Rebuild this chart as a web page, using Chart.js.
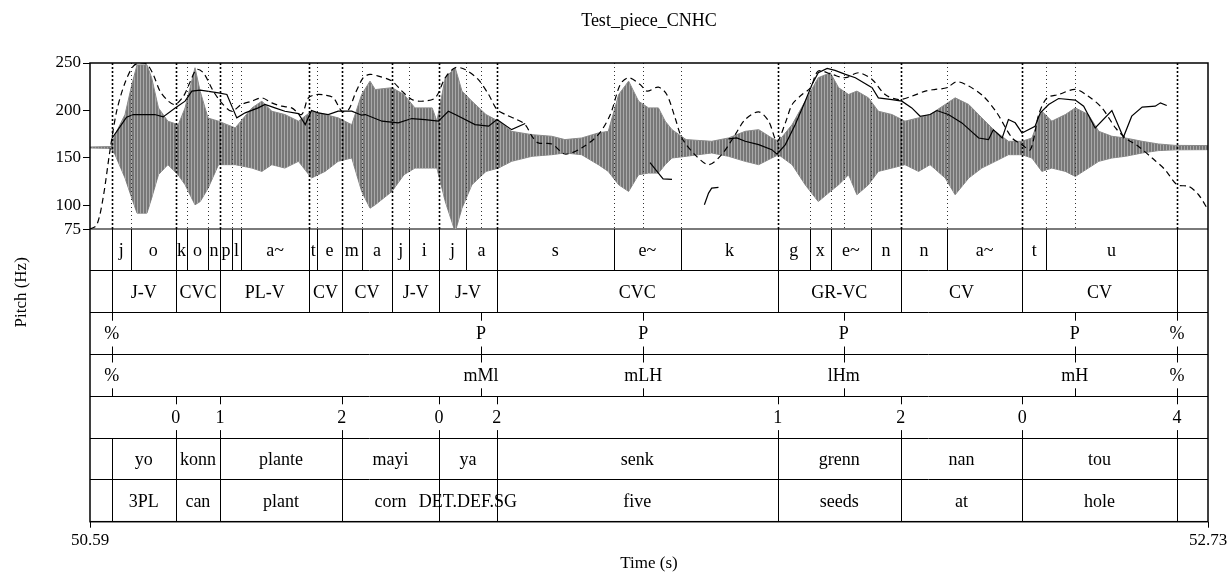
<!DOCTYPE html>
<html lang="en">
<head>
<meta charset="UTF-8">
<title>Test_piece_CNHC</title>
<script src="https://cdn.jsdelivr.net/npm/chart.js"></script>
<style>
  body { margin: 0; background: #fff; }
  #wrap { width: 1231px; height: 574px; }
</style>
</head>
<body>
<div id="wrap"><canvas id="myChart" width="1231" height="574"></canvas></div>
<script>
const FONT = '"Liberation Serif", "Times New Roman", serif';
const chartTitle = 'Test_piece_CNHC';
const tStart = 50.59, tEnd = 52.73;
const pitchTicks = [250, 200, 150, 100, 75];

// waveform envelope (drawn on the pitch scale, Hz units)
const waveT = [50.590, 50.630, 50.638, 50.657, 50.670, 50.680, 50.699, 50.708, 50.721, 50.739,
  50.759, 50.772, 50.791, 50.801, 50.816, 50.836, 50.868, 50.900, 50.919, 50.938,
  50.963, 50.989, 51.014, 51.040, 51.065, 51.091, 51.110, 51.126, 51.136, 51.168,
  51.191, 51.212, 51.245, 51.254, 51.270, 51.289, 51.302, 51.321, 51.348, 51.372,
  51.397, 51.436, 51.474, 51.499, 51.531, 51.563, 51.582, 51.602, 51.621, 51.640,
  51.659, 51.678, 51.691, 51.704, 51.731, 51.780, 51.812, 51.844, 51.870, 51.895,
  51.908, 51.934, 51.959, 51.984, 52.007, 52.023, 52.042, 52.058, 52.080, 52.099,
  52.125, 52.150, 52.176, 52.198, 52.227, 52.246, 52.272, 52.297, 52.323, 52.348,
  52.374, 52.393, 52.412, 52.431, 52.457, 52.476, 52.501, 52.521, 52.546, 52.572,
  52.604, 52.635, 52.667, 52.730];
const waveHi = [161.5, 162, 174.5, 195.7, 227, 248, 248, 234.5, 202.7, 188.7,
  185, 202.7, 245, 220, 192, 188.7, 181.6, 202.7, 209.8, 199.2,
  195.7, 188.7, 199.2, 195.7, 192.2, 185, 216.8, 230.9, 222, 224,
  216.8, 202.7, 202.7, 188.7, 234.5, 245, 220.4, 209.8, 195.7, 188.7,
  178, 174.5, 172.8, 169.3, 171, 176.3, 178, 216.8, 230.9, 209.8,
  202.7, 202.7, 188.7, 179.8, 169.3, 167.5, 171, 178, 179.8, 171,
  167.5, 185.1, 209.8, 234.5, 239.7, 223.9, 216.8, 220.4, 213.3, 199.2,
  195.7, 188.7, 192.2, 195.7, 206.3, 213.3, 206.3, 192.2, 178, 167.5,
  167.5, 171, 199.2, 188.7, 195.7, 202.7, 195.7, 178, 172.8, 171,
  167.5, 164.7, 163.2, 163];
const waveLo = [160.5, 160, 153.4, 128.8, 107.6, 91.8, 91.8, 107.6, 132.3, 142.9,
  132, 121.7, 100.6, 104, 118, 142.9, 142.9, 139.3, 135.8, 142.9,
  139.3, 146.4, 128.8, 135.8, 146.4, 149.9, 114.7, 97, 100.6, 114.7,
  132.3, 139.3, 139.3, 139.3, 104, 72, 97, 121.7, 135.8, 139.3,
  146.4, 151.7, 153.4, 155.2, 153.4, 142.9, 135.8, 121.7, 114.7, 132.3,
  134, 134, 142.9, 149.9, 151.7, 155.2, 151.7, 146.4, 142.9, 149.9,
  153.4, 142.9, 121.7, 104, 114.7, 121.7, 132.3, 111.2, 121.7, 135.8,
  139.3, 142.9, 135.8, 142.9, 128.8, 111.2, 128.8, 139.3, 146.4, 153.4,
  153.4, 149.9, 135.8, 139.3, 135.8, 130.5, 139.3, 146.4, 149.9, 151.7,
  155.2, 157.7, 158.5, 158.7];

// pitch (solid), null = unvoiced gap
const solidT = [50.632, 50.644, 50.660, 50.673, 50.714, 50.730, 50.753, 50.772, 50.785, 50.801,
  50.836, 50.852, 50.871, 50.887, 50.912, 50.925, 50.944, 50.963, 50.989, 51.002,
  51.014, 51.027, 51.046, 51.065, 51.091, 51.110, 51.117, 51.149, 51.180, 51.206,
  51.231, 51.257, 51.276, 51.292, 51.327, 51.353, 51.369, 51.397, 51.423,
  51.500,
  51.662, 51.678, 51.687, 51.704,
  51.730,
  51.766, 51.774, 51.780, 51.793,
  51.800,
  51.812, 51.828, 51.844, 51.870, 51.895, 51.905, 51.921, 51.940, 51.959, 51.972,
  51.984, 52.001, 52.016, 52.036, 52.055, 52.087, 52.099, 52.125, 52.144, 52.163,
  52.179, 52.198, 52.211, 52.233, 52.259, 52.291, 52.310, 52.319, 52.336, 52.348,
  52.361, 52.374, 52.399, 52.409, 52.425, 52.444, 52.476, 52.492, 52.514, 52.546,
  52.568, 52.584, 52.604, 52.629, 52.639, 52.651];
const solidHz = [170.7, 180, 192.9, 195.7, 195.7, 193.2, 202.7, 209.8, 220.4, 221.4,
  218.6, 216.8, 192.2, 197.5, 202.7, 206.3, 202.7, 199.2, 196.7, 185.1,
  200, 197.5, 195.7, 199.2, 199.2, 195, 195.7, 188.7, 187, 191.5,
  190.4, 188.7, 199.2, 195, 185.1, 183.4, 190.4, 179.8, 186.2,
  null,
  145, 134, 128, 127.5,
  null,
  100.6, 112.9, 118.2, 118.9,
  null,
  170, 171, 167.6, 164, 158.7, 154, 164, 185.1, 209.8, 227.4,
  239.7, 244.3, 242.2, 238, 234.5, 223.9, 213.3, 211.5, 209.8, 202.7,
  193.9, 195.7, 199.9, 195.7, 186.9, 171, 169.3, 179.8, 171, 190.4,
  187, 176.3, 183.3, 197.4, 206.3, 212.6, 210.9, 204.5, 181.6, 199.9,
  171.7, 194, 203.5, 204.5, 208, 205.2];

// second contour (dashed)
const dashT = [50.590, 50.603, 50.615, 50.628, 50.641, 50.657, 50.673, 50.686, 50.699, 50.711,
  50.724, 50.740, 50.753, 50.769, 50.781, 50.794, 50.807, 50.826, 50.842, 50.861,
  50.880, 50.900, 50.919, 50.938, 50.957, 50.976, 50.995, 51.008, 51.024, 51.040,
  51.056, 51.072, 51.085, 51.097, 51.113, 51.126, 51.142, 51.168, 51.187, 51.206,
  51.228, 51.251, 51.270, 51.289, 51.308, 51.333, 51.353, 51.369, 51.385, 51.407,
  51.423, 51.436, 51.448, 51.474, 51.499, 51.531, 51.563, 51.586, 51.605, 51.621,
  51.643, 51.656, 51.678, 51.694, 51.710, 51.723, 51.748, 51.774, 51.799, 51.825,
  51.844, 51.870, 51.889, 51.905, 51.921, 51.934, 51.953, 51.969, 51.984, 52.010,
  52.036, 52.061, 52.087, 52.112, 52.138, 52.163, 52.189, 52.208, 52.230, 52.249,
  52.272, 52.300, 52.326, 52.355, 52.374, 52.390, 52.406, 52.422, 52.444, 52.476,
  52.501, 52.527, 52.553, 52.572, 52.597, 52.623, 52.648, 52.671, 52.693, 52.712,
  52.730];
const dashHz = [75, 79.4, 107.6, 157, 199.2, 229.2, 246.8, 250, 248.6, 238,
  220.4, 209.8, 206.3, 215, 229.2, 243.2, 239.7, 220.4, 208, 199.2,
  206.3, 209.8, 213.3, 208, 204.5, 202.7, 195.7, 213.3, 216.8, 216.1,
  213.3, 199.2, 200.9, 216.8, 234.5, 238, 236.2, 230.9, 220.4, 211.5,
  209.8, 213.3, 234.5, 245, 243.2, 232.7, 216.8, 200.9, 195.7, 190.4,
  185.1, 172.8, 165.8, 164.7, 154.1, 160.5, 174.5, 195.7, 227.4, 234.5,
  227.4, 220.4, 224.6, 216.8, 192.2, 171, 153.4, 142.9, 153.4, 174.5,
  190.4, 198.5, 188.7, 167.5, 186.9, 206.3, 216.8, 223.9, 241.5, 238,
  234.5, 239.7, 232.7, 216.8, 211.5, 215, 220.4, 222.2, 223.9, 230.3,
  225.7, 215, 197.4, 171, 163.9, 158.6, 195.7, 213.3, 216.8, 222.2,
  215, 202.7, 181.6, 171, 162.1, 149.9, 137.5, 121.7, 120, 111.2,
  95.4];

// tiers
const phoneBounds = [50.6316, 50.6685, 50.7541, 50.7763, 50.8154, 50.8389, 50.8613, 50.8791,
  51.0099, 51.0252, 51.0719, 51.1102, 51.1688, 51.2013, 51.2582, 51.3099, 51.3687,
  51.5923, 51.7215, 51.9063, 51.9676, 52.0078, 52.0853, 52.1418, 52.2308, 52.3744,
  52.4204, 52.6706];
const phoneLabels = ['', 'j', 'o', 'k', 'o', 'n', 'p', 'l', 'a~', 't', 'e', 'm', 'a', 'j', 'i',
  'j', 'a', 's', 'e~', 'k', 'g', 'x', 'e~', 'n', 'n', 'a~', 't', 'u', ''];
const sylBounds = [50.6316, 50.7541, 50.8389, 51.0099, 51.0719, 51.1688, 51.2582, 51.3687,
  51.9063, 52.1418, 52.3744, 52.6706];
const sylLabels = ['', 'J-V', 'CVC', 'PL-V', 'CV', 'CV', 'J-V', 'J-V', 'CVC', 'GR-VC', 'CV', 'CV', ''];
const toneTimes = [50.6316, 51.3386, 51.6488, 52.0327, 52.4749, 52.6706];
const toneLabels = ['%', 'P', 'P', 'P', 'P', '%'];
const toneTargets = ['%', 'mMl', 'mLH', 'lHm', 'mH', '%'];
const numTimes = [50.7541, 50.8389, 51.0719, 51.2582, 51.3687, 51.9063, 52.1418, 52.3744, 52.6706];
const numLabels = ['0', '1', '2', '0', '2', '1', '2', '0', '4'];
const wordBounds = [50.6316, 50.7541, 50.8389, 51.0719, 51.2582, 51.3687, 51.9063, 52.1418,
  52.3744, 52.6706];
const wordLabels = ['', 'yo', 'konn', 'plante', 'mayi', 'ya', 'senk', 'grenn', 'nan', 'tou', ''];
const glossLabels = ['', '3PL', 'can', 'plant', 'corn', 'DET.DEF.SG', 'five', 'seeds', 'at', 'hole', ''];

const tiers = [
  {type: 'interval', bounds: phoneBounds, labels: phoneLabels},
  {type: 'interval', bounds: sylBounds, labels: sylLabels},
  {type: 'point', times: toneTimes, labels: toneLabels},
  {type: 'point', times: toneTimes, labels: toneTargets},
  {type: 'point', times: numTimes, labels: numLabels},
  {type: 'interval', bounds: wordBounds, labels: wordLabels},
  {type: 'interval', bounds: wordBounds, labels: glossLabels}
];

const xy = (ts, vs) => ts.map((t, i) => ({x: t, y: vs[i]}));

// striped fill so the waveform reads like dense oscillation instead of a flat blob
const canvas = document.getElementById('myChart');
const stripe = document.createElement('canvas');
stripe.width = 3; stripe.height = 1;
const sg = stripe.getContext('2d');
sg.fillStyle = '#777'; sg.fillRect(0, 0, 2, 1);
sg.fillStyle = '#a9a9a9'; sg.fillRect(2, 0, 1, 1);
const wavePattern = canvas.getContext('2d').createPattern(stripe, 'repeat');

// draws boundaries, tier texts, frame and the side labels
const tierPlugin = {
  id: 'tiers',
  afterDatasetsDraw(chart) {
    const {ctx, chartArea: a, scales: {x, y, yt}} = chart;
    const px = t => Math.round(x.getPixelForValue(t)) + 0.5;
    const top = y.getPixelForValue(250), bot = y.getPixelForValue(75);
    const line = (x0, y0, x1, y1) => { ctx.beginPath(); ctx.moveTo(x0, y0); ctx.lineTo(x1, y1); ctx.stroke(); };
    ctx.save();

    // dotted boundaries over the pitch panel
    const dotted = (times, w, dash, col) => {
      ctx.lineWidth = w; ctx.setLineDash(dash); ctx.strokeStyle = col;
      times.forEach(t => line(px(t), top, px(t), bot));
    };
    dotted(phoneBounds, 1, [1, 3], '#333');
    dotted(toneTimes, 1, [1, 3], '#333');
    dotted(sylBounds, 1.6, [2, 2], '#000');
    ctx.setLineDash([]);

    ctx.fillStyle = '#000';
    ctx.strokeStyle = '#000';
    ctx.lineWidth = 1;
    ctx.font = '18px ' + FONT;
    ctx.textAlign = 'center';
    ctx.textBaseline = 'middle';
    tiers.forEach((tier, r) => {
      const y0 = yt.getPixelForValue(r), y1 = yt.getPixelForValue(r + 1), ym = (y0 + y1) / 2 + 1;
      if (tier.type === 'interval') {
        const edges = [tStart, ...tier.bounds, tEnd];
        tier.bounds.forEach(t => line(px(t), y0, px(t), y1));
        tier.labels.forEach((lab, i) => {
          if (lab) ctx.fillText(lab, (x.getPixelForValue(edges[i]) + x.getPixelForValue(edges[i + 1])) / 2, ym);
        });
      } else {
        tier.times.forEach((t, i) => {
          line(px(t), y0, px(t), y0 + 8);
          line(px(t), y1 - 8, px(t), y1);
          ctx.fillText(tier.labels[i], x.getPixelForValue(t), ym);
        });
      }
    });

    // frame
    ctx.lineWidth = 1.5;
    ctx.strokeRect(a.left, a.top, a.right - a.left, a.bottom - a.top);

    // title and y label
    ctx.font = '18px ' + FONT;
    ctx.textBaseline = 'alphabetic';
    ctx.fillText(chartTitle, (a.left + a.right) / 2, 26);
    ctx.translate(22, (a.top + a.bottom) / 2);
    ctx.rotate(-Math.PI / 2);
    ctx.textBaseline = 'middle';
    ctx.font = '17px ' + FONT;
    ctx.fillText('Pitch (Hz)', 0, 0);
    ctx.restore();
  }
};

const axisFont = {family: FONT, size: 17};

new Chart(canvas, {
  type: 'line',
  data: {
    datasets: [{
      label: 'Pitch',
      data: xy(solidT, solidHz),
      yAxisID: 'y',
      borderColor: '#000',
      borderWidth: 1.2,
      pointRadius: 0,
      spanGaps: false,
      fill: false
    }, {
      label: 'Contour',
      data: xy(dashT, dashHz),
      yAxisID: 'y',
      borderColor: '#000',
      borderWidth: 1.2,
      borderDash: [6, 4],
      pointRadius: 0,
      tension: 0.3,
      fill: false
    }, {
      label: 'Wave top',
      data: xy(waveT, waveHi),
      yAxisID: 'y',
      borderColor: '#8a8a8a',
      borderWidth: 1,
      backgroundColor: wavePattern,
      pointRadius: 0,
      fill: '+1'
    }, {
      label: 'Wave bottom',
      data: xy(waveT, waveLo),
      yAxisID: 'y',
      borderColor: '#8a8a8a',
      borderWidth: 1,
      pointRadius: 0,
      fill: false
    }]
  },
  options: {
    responsive: false,
    animation: false,
    events: [],
    layout: {padding: {top: 63, right: 23, left: 0, bottom: 0}},
    plugins: {legend: {display: false}, tooltip: {enabled: false}},
    scales: {
      x: {
        type: 'linear',
        min: tStart,
        max: tEnd,
        afterBuildTicks: s => { s.ticks = [{value: tStart}, {value: tEnd}]; },
        afterFit: s => { s.height = 52.3; },
        ticks: {
          font: axisFont, color: '#000', padding: 3, maxRotation: 0, autoSkip: false,
          callback: v => Number(v).toFixed(2)
        },
        grid: {drawOnChartArea: false, drawTicks: true, tickLength: 6, color: '#000'},
        border: {display: false},
        title: {display: true, text: 'Time (s)', font: axisFont, color: '#000', padding: {top: 0, bottom: 0}}
      },
      y: {
        type: 'linear',
        position: 'left',
        stack: 'panel',
        stackWeight: 166,
        weight: 2,
        min: 75,
        max: 250,
        afterBuildTicks: s => { s.ticks = pitchTicks.map(v => ({value: v})); },
        afterFit: s => { s.width = 90; },
        ticks: {font: axisFont, color: '#000', padding: 2, autoSkip: false},
        grid: {drawOnChartArea: false, drawTicks: true, tickLength: 7, color: '#000'},
        border: {display: false}
      },
      yt: {
        type: 'linear',
        position: 'left',
        stack: 'panel',
        stackWeight: 292.4,
        weight: 1,
        min: 0,
        max: 7,
        reverse: true,
        afterBuildTicks: s => { s.ticks = [0, 1, 2, 3, 4, 5, 6, 7].map(v => ({value: v})); },
        afterFit: s => { s.width = 90; },
        ticks: {display: false},
        grid: {
          drawTicks: false,
          color: c => c.tick && c.tick.value === 0 ? '#7a7a7a' : '#000',
          lineWidth: c => c.tick && c.tick.value === 0 ? 2 : 1
        },
        border: {display: false}
      }
    }
  },
  plugins: [tierPlugin]
});
</script>
</body>
</html>
